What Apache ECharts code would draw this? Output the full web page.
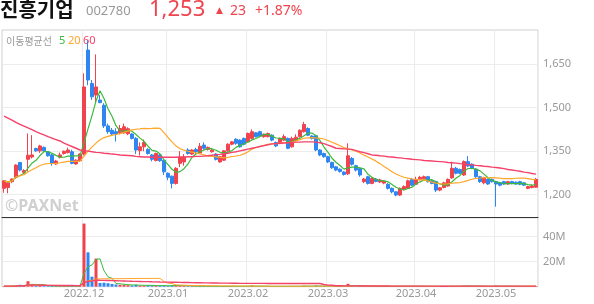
<!DOCTYPE html>
<html><head><meta charset="utf-8">
<script src="https://cdn.jsdelivr.net/npm/echarts@6/dist/echarts.min.js"></script>
<style>html,body{margin:0;padding:0;background:#fff}#c{width:594px;height:304px}</style>
</head><body><div id="c"></div>
<script>
// ---- data ----
const tradingDays = [
  ['2022.11', [3,4,7,8,9,10,11,14,15,16,17,18,21,22,23,24,25,28,29,30]],
  ['2022.12', [1,2,5,6,7,8,9,12,13,14,15,16,19,20,21,22,23,26,27,28,29]],
  ['2023.01', [2,3,4,5,6,9,10,11,12,13,16,17,18,19,20,25,26,27,30,31]],
  ['2023.02', [1,2,3,6,7,8,9,10,13,14,15,16,17,20,21,22,23,24,27,28]],
  ['2023.03', [2,3,6,7,8,9,10,13,14,15,16,17,20,21,22,23,24,27,28,29,30,31]],
  ['2023.04', [3,4,5,6,7,10,11,12,13,14,17,18,19,20,21,24,25,26,27,28]],
  ['2023.05', [2,3,4,8,9,10,11,12,15,16,17]]
];
const opens = [
 1222,1225,1245,1260,1311,1277,1322,1330,1359,1351,
 1363,1348,1337,1306,1329,1342,1345,1348,1306,1317,
 1340,1698,1583,1543,1526,1508,1437,1422,1417,1413,
 1413,1410,1409,1394,1352,1365,1356,1337,1318,1337,
 1319,1274,1264,1239,1308,1313,1354,1340,1356,1344,
 1371,1356,1348,1340,1313,1319,1351,1374,1391,1388,
 1394,1382,1394,1413,1417,1400,1400,1405,1380,1377,
 1388,1394,1365,1388,1400,1417,1428,1402,1403,1354,
 1342,1331,1311,1296,1288,1278,1272,1325,1300,1290,
 1245,1262,1239,1254,1244,1240,1236,1222,1210,1199,
 1220,1222,1253,1236,1253,1255,1262,1248,1245,1216,
 1225,1230,1258,1291,1287,1268,1314,1305,1288,1262,
 1241,1253,1253,1245,1241,1245,1237,1245,1243,1245,
 1241,1222,1225,1226
];
const closes = [
 1248,1241,1254,1302,1285,1283,1336,1337,1351,1368,
 1351,1334,1308,1316,1337,1350,1354,1308,1319,1340,
 1571,1595,1537,1571,1517,1437,1417,1409,1409,1428,
 1434,1427,1394,1354,1365,1380,1342,1322,1342,1317,
 1279,1260,1239,1291,1329,1329,1342,1354,1348,1367,
 1360,1363,1354,1322,1331,1351,1374,1382,1377,1365,
 1374,1411,1417,1400,1402,1408,1411,1388,1368,1394,
 1400,1360,1394,1398,1422,1442,1405,1394,1354,1337,
 1331,1313,1293,1285,1280,1270,1334,1305,1285,1268,
 1254,1239,1256,1246,1251,1247,1222,1210,1199,1222,
 1228,1248,1233,1253,1260,1262,1245,1239,1216,1224,
 1241,1253,1291,1274,1274,1314,1299,1291,1262,1245,
 1258,1237,1245,1237,1233,1237,1245,1239,1237,1236,
 1233,1228,1230,1253
];
const lows = [
 1207,1205,1240,1255,1280,1272,1280,1325,1348,1344,
 1348,1331,1300,1303,1325,1338,1342,1305,1303,1314,
 1335,1577,1526,1520,1515,1430,1410,1403,1383,1408,
 1410,1405,1390,1340,1335,1350,1338,1315,1315,1313,
 1268,1250,1222,1235,1295,1300,1338,1337,1340,1342,
 1355,1352,1345,1318,1310,1316,1348,1370,1372,1362,
 1370,1380,1391,1397,1398,1396,1397,1384,1364,1374,
 1385,1357,1362,1385,1397,1414,1402,1390,1350,1333,
 1327,1309,1289,1281,1276,1266,1268,1300,1280,1262,
 1240,1235,1236,1243,1240,1236,1218,1205,1195,1196,
 1215,1220,1230,1234,1250,1252,1242,1236,1209,1212,
 1222,1228,1255,1270,1271,1265,1295,1288,1258,1241,
 1236,1234,1242,1159,1229,1234,1234,1236,1234,1233,
 1230,1219,1222,1224
];
const highs = [
 1250,1243,1256,1305,1313,1288,1411,1405,1362,1372,
 1366,1350,1340,1320,1345,1352,1362,1355,1322,1343,
 1618,1732,1595,1683,1543,1515,1445,1430,1429,1440,
 1445,1432,1412,1398,1380,1390,1360,1340,1345,1340,
 1322,1277,1266,1295,1350,1340,1360,1357,1362,1378,
 1380,1366,1357,1343,1334,1354,1377,1385,1394,1391,
 1397,1414,1425,1416,1420,1411,1414,1408,1383,1397,
 1408,1397,1400,1408,1425,1451,1432,1405,1406,1357,
 1345,1334,1314,1299,1291,1281,1377,1330,1303,1293,
 1258,1265,1260,1258,1255,1250,1240,1225,1212,1225,
 1232,1252,1258,1262,1265,1266,1265,1250,1248,1227,
 1245,1256,1314,1296,1290,1318,1333,1308,1291,1265,
 1262,1256,1256,1248,1244,1248,1248,1248,1246,1248,
 1244,1231,1236,1258
];
// volume in millions of shares
const volumes = [
 0.5,0.4,0.6,0.9,1.5,0.6,4.4,1.8,0.8,0.6,
 0.5,0.5,0.7,0.5,0.4,0.4,0.5,0.8,0.5,0.6,
 50.5,27.5,8,22.5,3,3.2,2.8,2.2,1.8,1.5,
 1.4,1.2,1.0,1.6,0.9,0.8,1.2,0.9,0.7,0.7,
 0.9,0.6,1.0,1.2,0.8,0.6,0.5,0.5,0.4,0.5,
 0.4,0.4,0.3,0.4,0.3,0.4,0.5,0.4,0.4,0.3,
 0.4,0.5,0.9,0.4,0.3,0.3,0.3,0.3,0.3,0.4,
 0.3,0.4,0.4,0.3,0.4,0.8,0.5,0.3,0.9,0.5,
 0.4,0.4,0.4,0.3,0.3,0.3,2.3,0.9,0.5,0.4,
 0.3,0.3,0.3,0.3,0.3,0.3,0.3,0.4,0.4,0.4,
 0.3,0.4,0.3,0.3,0.3,0.3,0.3,0.3,0.4,0.3,
 0.3,0.3,0.6,0.4,0.3,0.8,0.8,0.4,0.4,0.3,
 0.3,0.3,0.3,0.8,0.3,0.3,0.3,0.3,0.3,0.3,
 0.3,0.3,0.3,0.5
];
// 60-day moving average (needs history before the window)
const ma60 = [
 1471,1464,1457,1449,1442,1436,1430,1424,1417,1411,
 1406,1400,1395,1390,1385,1378,1372,1366,1360,1354,
 1352,1350,1348,1346,1345,1343,1342,1340,1339,1337,
 1336,1335,1334,1332,1331,1330,1330,1329,1329,1329,
 1329,1329,1329,1329,1330,1330,1331,1331,1332,1332,
 1333,1334,1336,1338,1339,1341,1343,1346,1348,1351,
 1354,1357,1360,1363,1366,1369,1372,1375,1376,1377,
 1378,1379,1380,1381,1381,1382,1382,1382,1381,1379,
 1376,1371,1366,1360,1359,1358,1357,1356,1352,1348,
 1345,1341,1337,1336,1334,1333,1331,1330,1328,1327,
 1325,1324,1322,1321,1320,1318,1317,1316,1315,1314,
 1313,1311,1310,1309,1307,1306,1304,1303,1301,1300,
 1298,1297,1295,1294,1292,1290,1287,1285,1283,1281,
 1278,1276,1273,1271
];
const priceTicks = [1200, 1350, 1500, 1650];
const volumeTicks = [20, 40];
const header = { name: '진흥기업', code: '002780', price: '1,253', change: '23', rate: '+1.87%' };

// ---- build ----
const categories = [];
const monthStartIdx = [];
tradingDays.forEach(([m, days], k) => {
  if (k > 0) monthStartIdx.push(categories.length);
  days.forEach(d => categories.push(m + '.' + String(d).padStart(2, '0')));
});
function movingAvg(arr, n) {
  return arr.map((_, i) => {
    const s = Math.max(0, i - n + 1);
    let sum = 0;
    for (let j = s; j <= i; j++) sum += arr[j];
    return +(sum / (i - s + 1)).toFixed(2);
  });
}
const UP = '#f0434e', DOWN = '#2f86f0';
const candleData = opens.map((o, i) => [o, closes[i], lows[i], highs[i]]);
const volData = volumes.map((v, i) => ({ value: v, itemStyle: { color: closes[i] >= opens[i] ? UP : DOWN } }));
const isMonth = (idx) => monthStartIdx.indexOf(idx) >= 0;
const GRID_LINE = '#ececec';
const C5 = '#3cb93c', C20 = '#ffa62b', C60 = '#f4426a';

const chart = echarts.init(document.getElementById('c'), null, { renderer: 'canvas', width: 594, height: 304 });
chart.setOption({
  animation: false,
  backgroundColor: '#fff',
  grid: [
    { left: 2, top: 30, width: 536, height: 187.7, show: true, borderColor: '#cfcfcf', borderWidth: 1 },
    { left: 2, top: 217.7, width: 536, height: 69, show: true, borderColor: '#cfcfcf', borderWidth: 1 }
  ],
  xAxis: [
    { type: 'category', gridIndex: 0, data: categories, boundaryGap: true,
      axisLine: { show: true, lineStyle: { color: '#333', width: 1 } },
      axisTick: { show: false }, axisLabel: { show: false },
      splitLine: { show: true, interval: isMonth, lineStyle: { color: GRID_LINE } } },
    { type: 'category', gridIndex: 1, data: categories, boundaryGap: true,
      axisLine: { show: false }, axisTick: { show: false },
      axisLabel: { show: true, interval: isMonth, formatter: v => v.slice(0, 7), color: '#999', fontSize: 11, fontFamily: 'Noto Sans', margin: 2 },
      splitLine: { show: true, interval: isMonth, lineStyle: { color: GRID_LINE } } }
  ],
  yAxis: [
    { type: 'value', gridIndex: 0, position: 'right', min: 1121, max: 1767, scale: true,
      axisLine: { show: false },
      axisTick: { show: false, customValues: priceTicks },
      axisLabel: { customValues: priceTicks, formatter: v => v.toLocaleString('en-US'), color: '#999', fontSize: 11, fontFamily: 'Noto Sans', margin: 5 },
      splitLine: { show: true, lineStyle: { color: GRID_LINE } } },
    { type: 'value', gridIndex: 1, position: 'right', min: 0, max: 55.2, interval: 20,
      axisLine: { show: false }, axisTick: { show: false },
      axisLabel: { formatter: v => (v === 0 ? '' : v + 'M'), color: '#999', fontSize: 11, fontFamily: 'Noto Sans', margin: 5, showMaxLabel: false },
      splitLine: { show: true, lineStyle: { color: GRID_LINE } } }
  ],
  series: [
    { type: 'candlestick', xAxisIndex: 0, yAxisIndex: 0, data: candleData, barWidth: 3,
      itemStyle: { color: UP, color0: DOWN, borderColor: UP, borderColor0: DOWN, borderWidth: 1 } },
    { type: 'line', xAxisIndex: 0, yAxisIndex: 0, data: movingAvg(closes, 5), showSymbol: false, symbol: 'none', lineStyle: { color: C5, width: 1.2 } },
    { type: 'line', xAxisIndex: 0, yAxisIndex: 0, data: movingAvg(closes, 20), showSymbol: false, symbol: 'none', lineStyle: { color: C20, width: 1.2 } },
    { type: 'line', xAxisIndex: 0, yAxisIndex: 0, data: ma60, showSymbol: false, symbol: 'none', lineStyle: { color: C60, width: 1.4 } },
    { type: 'bar', xAxisIndex: 1, yAxisIndex: 1, data: volData, barWidth: 3 },
    { type: 'line', xAxisIndex: 1, yAxisIndex: 1, data: movingAvg(volumes, 5), showSymbol: false, symbol: 'none', lineStyle: { color: C5, width: 1 } },
    { type: 'line', xAxisIndex: 1, yAxisIndex: 1, data: movingAvg(volumes, 20), showSymbol: false, symbol: 'none', lineStyle: { color: C20, width: 1 } },
    { type: 'line', xAxisIndex: 1, yAxisIndex: 1, data: movingAvg(volumes, 60), showSymbol: false, symbol: 'none', lineStyle: { color: C60, width: 1.4 } }
  ],
  graphic: [
    { type: 'text', x: 0, y: 9, style: { text: header.name, font: 'bold 20px "Noto Sans CJK KR"', fill: '#111', textVerticalAlign: 'middle' } },
    { type: 'text', x: 86, y: 11.5, style: { text: header.code, font: '13px "Noto Sans"', fill: '#999', textVerticalAlign: 'middle' } },
    { type: 'text', x: 149, y: 10, style: { text: header.price, font: '22px "Noto Sans"', fill: UP, textVerticalAlign: 'middle' } },
    { type: 'text', x: 216, y: 11, style: { text: '▲', font: '9px "DejaVu Sans"', fill: UP, textVerticalAlign: 'middle' } },
    { type: 'text', x: 230, y: 11.5, style: { text: header.change, font: '14px "Noto Sans"', fill: UP, textVerticalAlign: 'middle' } },
    { type: 'text', x: 255, y: 11.5, style: { text: header.rate, font: '14px "Noto Sans"', fill: UP, textVerticalAlign: 'middle' } },
    { type: 'text', x: 6, y: 41, style: { text: '이동평균선', font: '10px "Noto Sans CJK KR"', fill: '#999', textVerticalAlign: 'middle' } },
    { type: 'text', x: 59, y: 41, style: { text: '5', font: '11px "Noto Sans"', fill: C5, textVerticalAlign: 'middle' } },
    { type: 'text', x: 68, y: 41, style: { text: '20', font: '11px "Noto Sans"', fill: C20, textVerticalAlign: 'middle' } },
    { type: 'text', x: 83, y: 41, style: { text: '60', font: '11px "Noto Sans"', fill: C60, textVerticalAlign: 'middle' } },
    { type: 'text', x: 5, y: 206, z: 0, style: { text: '©PAXNet', font: 'bold 16px "Noto Sans"', fill: '#d0d0d0', textVerticalAlign: 'middle' } }
  ]
});
</script>
</body></html>
